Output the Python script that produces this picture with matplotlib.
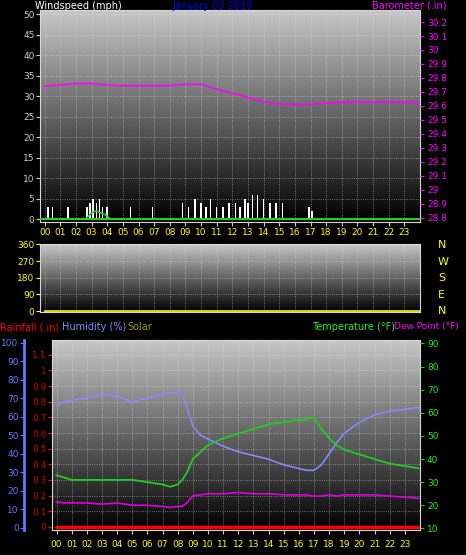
import numpy as np
import matplotlib
matplotlib.use("Agg")
import matplotlib.pyplot as plt

hours = [f"{h:02d}" for h in range(24)]
t_baro = [0, 1, 2, 3, 4, 5, 6, 7, 8, 9, 10, 11, 12, 13, 14, 15, 16, 17, 18, 19, 20, 21, 22, 23, 23.9]
baro = [29.74, 29.75, 29.76, 29.76, 29.75, 29.745, 29.745, 29.745, 29.745, 29.755, 29.755, 29.72, 29.69, 29.66, 29.63, 29.615, 29.61, 29.61, 29.62, 29.625, 29.63, 29.625, 29.63, 29.625, 29.625]
t_gust = [0.2, 0.5, 1.5, 2.7, 2.9, 3.1, 3.3, 3.5, 3.7, 4.0, 5.5, 6.9, 8.8, 9.2, 9.6, 10.0, 10.3, 10.6, 11.0, 11.4, 11.8, 12.2, 12.5, 12.8, 13.0, 13.3, 13.6, 14.0, 14.4, 14.8, 15.2, 16.9, 17.1]
gust = [3, 3, 3, 3, 4, 5, 4, 5, 3, 3, 3, 3, 4, 3, 5, 4, 3, 5, 3, 3, 4, 4, 3, 5, 4, 6, 6, 5, 4, 4, 4, 3, 2]
t_avg = [0, 2.6, 3.0, 3.3, 3.6, 3.9, 4.2, 24]
avg = [0, 0, 1.5, 2, 1.5, 1, 0, 0]
t_bot = [0, 0.5, 1, 2, 3, 4, 5, 6, 7, 7.5, 8, 8.3, 8.6, 9, 9.5, 10, 11, 12, 13, 14, 15, 16, 16.5, 17, 17.5, 18, 18.5, 19, 20, 21, 22, 23, 23.9]
humidity = [66, 68, 69, 70, 72, 71, 68, 70, 72, 73, 73, 72, 65, 55, 50, 48, 44, 41, 39, 37, 34, 32, 31, 31, 34, 40, 46, 51, 57, 61, 63, 64, 65]
temperature = [33, 32, 31, 31, 31, 31, 31, 30, 29, 28, 29, 31, 34, 40, 43, 46, 49, 51, 53, 55, 56, 57, 57, 58, 53, 49, 46, 44, 42, 40, 38, 37, 36]
dewpoint = [21.5, 21, 21, 21, 20.5, 21, 20, 20, 19.5, 19, 19.5, 19.5, 21, 24, 24.5, 25, 25, 25.5, 25, 25, 24.5, 24.5, 24.5, 24, 24, 24.5, 24, 24.5, 24.5, 24.5, 24, 23.5, 23]
rain = [0] * len(t_bot)
direction = [0, 0]
t_dir = [0, 24]

W, H = 466, 555
fig = plt.figure(figsize=(W/100, H/100), dpi=100, facecolor="black")

def ax_at(x0, y0, x1, y1):
    return fig.add_axes([x0/W, 1 - y1/H, (x1-x0)/W, (y1-y0)/H])

grad = np.linspace(0.78, 0.0, 256).reshape(-1, 1)

def bg(ax):
    ax.set_facecolor("black")
    ax.imshow(grad, cmap="gray", vmin=0, vmax=1, aspect="auto",
              extent=[0, 1, 0, 1], transform=ax.transAxes, zorder=0)
    for s in ax.spines.values():
        s.set_color("#d8d8d8")

def xhours(ax, show=True):
    ax.set_xlim(-0.3, 24)
    ax.set_xticks(range(24))
    ax.set_xticklabels(hours if show else [])
    ax.tick_params(axis="x", colors="#cccccc", labelcolor="yellow", labelsize=6.5, length=3, pad=1)
    ax.grid(True, color="#e0e0e0", linestyle=":", linewidth=0.6, alpha=0.6)

# top panel
a1 = ax_at(40, 10, 420, 222)
bg(a1)
xhours(a1)
a1.set_ylim(-0.7, 51)
a1.set_yticks(range(0, 51, 5))
a1.tick_params(axis="y", colors="#cccccc", labelcolor="#cccccc", labelsize=6.5, length=3, pad=1)
a1.bar(t_gust, gust, width=0.1, color="white", zorder=3)
a1.plot(t_avg, avg, color="#22cc22", lw=1.2, zorder=4)
a1.axhline(0, color="#22cc22", lw=1.5, zorder=4)
b1 = a1.twinx()
b1.set_ylim(28.77, 30.286)
b1.set_yticks(np.round(np.arange(28.8, 30.21, 0.1), 1))
b1.set_yticklabels([f"{v:g}" for v in np.round(np.arange(28.8, 30.21, 0.1), 1)])
b1.tick_params(axis="y", colors="magenta", labelcolor="magenta", labelsize=6.5, length=3, pad=2)
b1.plot(t_baro, baro, color="magenta", lw=1.2)
for s in b1.spines.values():
    s.set_visible(False)
fig.text(35/W, 1-6/H, "Windspeed (mph)", color="white", fontsize=7, va="center")
fig.text(172/W, 1-6/H, "January 03 2019", color="blue", fontsize=7, va="center")
fig.text(372/W, 1-6/H, "Barometer (.in)", color="magenta", fontsize=7, va="center")

# middle panel
a2 = ax_at(40, 244, 420, 312)
bg(a2)
xhours(a2, show=False)
a2.tick_params(axis="x", length=0)
a2.set_ylim(-5, 362)
a2.set_yticks([0, 90, 180, 270, 360])
a2.tick_params(axis="y", colors="yellow", labelcolor="yellow", labelsize=6.5, length=3, pad=1)
a2.plot(t_dir, direction, color="#dddd00", lw=2)
for i, c in enumerate("NWSEN"):
    fig.text(438/W, 1-(245 + i*16.5)/H, c, color="yellow", fontsize=8, va="center")

# bottom panel
a3 = ax_at(52, 340, 420, 530)
bg(a3)
xhours(a3)
a3.tick_params(axis="x", pad=4)
a3.set_ylim(-0.02, 1.195)
a3.set_yticks(np.round(np.arange(0, 1.11, 0.1), 1))
a3.set_yticklabels(["0"] + [f"{v:g}" for v in np.round(np.arange(0.1, 1.11, 0.1), 1)])
a3.tick_params(axis="y", colors="red", labelcolor="#cc0000", labelsize=6.5, length=3, pad=1)
a3.plot(t_bot, rain, color="red", lw=2.5, zorder=5)
h3 = a3.twinx()
h3.spines["left"].set_position(("outward", 20))
h3.spines["left"].set_visible(True)
h3.spines["left"].set_color("#6677ff")
h3.spines["left"].set_linewidth(2)
h3.spines["right"].set_visible(False)
h3.spines["top"].set_visible(False)
h3.spines["bottom"].set_visible(False)
h3.yaxis.set_label_position("left")
h3.yaxis.tick_left()
h3.set_ylim(-1.3, 101.5)
h3.set_yticks(range(0, 101, 10))
h3.tick_params(axis="y", colors="#6677ff", labelcolor="#6677ff", labelsize=6.5, length=3, pad=1)
h3.plot(t_bot, humidity, color="#8888ff", lw=1.2)
tt = a3.twinx()
tt.set_ylim(9.3, 91.5)
tt.set_yticks(range(10, 91, 10))
tt.tick_params(axis="y", colors="#22cc22", labelcolor="#22ee22", labelsize=6.5, length=3, pad=2)
for s in tt.spines.values():
    s.set_visible(False)
tt.plot(t_bot, temperature, color="#22cc22", lw=1.3)
tt.plot(t_bot, dewpoint, color="#dd00dd", lw=1.2)
fig.text(0/W, 1-327/H, "Rainfall (.in)", color="red", fontsize=7, va="center")
fig.text(62/W, 1-327/H, "Humidity (%)", color="#8888ff", fontsize=7, va="center")
fig.text(127/W, 1-327/H, "Solar", color="#999900", fontsize=7, va="center")
fig.text(312/W, 1-327/H, "Temperature (°F)", color="#22ee22", fontsize=7, va="center")
fig.text(394/W, 1-327/H, "Dew Point (°F)", color="magenta", fontsize=6.5, va="center")

fig.savefig("out.png", dpi=100, facecolor="black")
